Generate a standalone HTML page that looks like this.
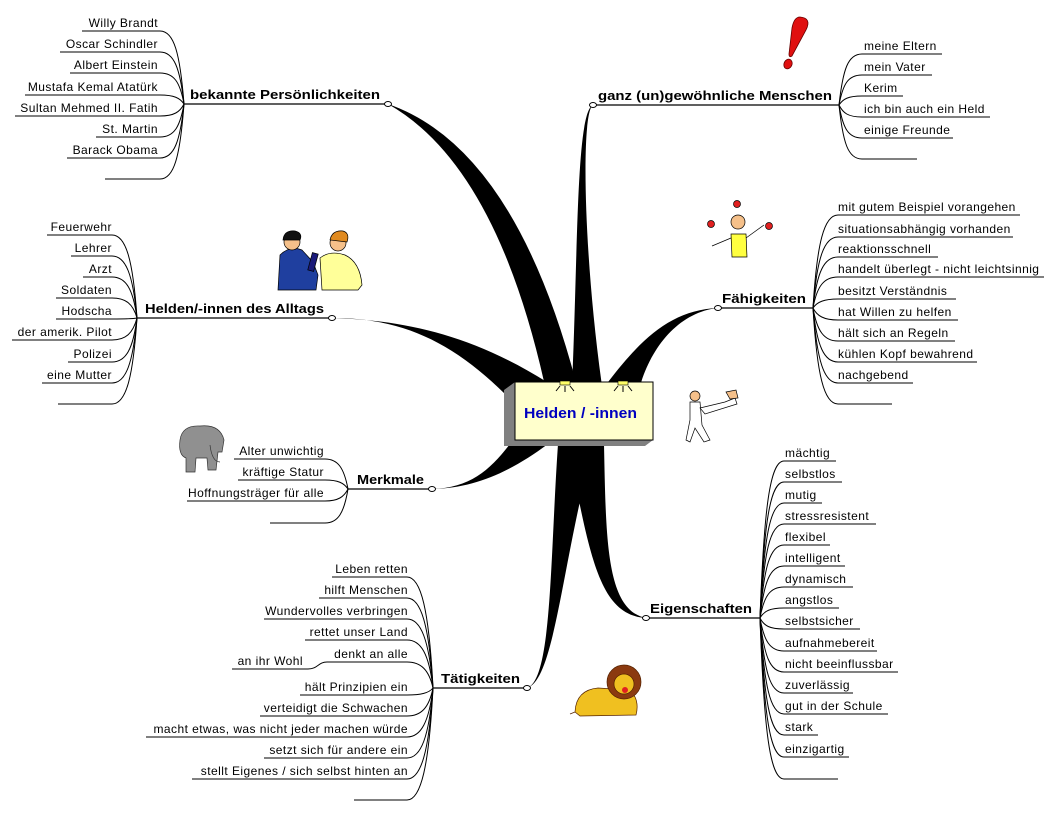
<!DOCTYPE html>
<html><head><meta charset="utf-8"><style>
html,body{margin:0;padding:0;background:#fff;}
svg{display:block;}
.l{font-family:"Liberation Sans",sans-serif;font-size:12px;letter-spacing:0.45px;fill:#000;}
.b{font-family:"Liberation Sans",sans-serif;font-size:13px;font-weight:bold;fill:#000;}
.t{fill:none;stroke:#000;stroke-width:1;}
</style></head><body>
<svg width="1056" height="821" viewBox="0 0 1056 821" xmlns="http://www.w3.org/2000/svg">
<g fill="#000">
<path d="M545 386 Q496 165 388 104 Q515 148 577 386 Z"/>
<path d="M572 386 C578 250 576 112 593 105 C581 112 583 250 602 386 Z"/>
<path d="M505 394 C450 340 400 318 332 318 C400 320 470 333 550 384 Z"/>
<path d="M605 386 C640 340 670 310 718 308 C680 312 652 345 640 386 Z"/>
<path d="M510 444 C490 470 470 488 432 489 C475 488 510 472 548 444 Z"/>
<path d="M558 444 C550 560 552 680 527 688 C555 680 562 560 594 444 Z"/>
<path d="M568 444 C590 560 600 615 646 618 C606 610 606 540 604 444 Z"/>
</g>
<g stroke="#000" stroke-width="1.2">
<line x1="184" y1="104" x2="388" y2="104"/>
<line x1="593" y1="105" x2="839" y2="105"/>
<line x1="137" y1="318" x2="332" y2="318"/>
<line x1="718" y1="308" x2="813" y2="308"/>
<line x1="348" y1="489" x2="432" y2="489"/>
<line x1="646" y1="618" x2="760" y2="618"/>
<line x1="433" y1="688" x2="527" y2="688"/>
</g>
<g fill="#fff" stroke="#000" stroke-width="1">
<ellipse cx="388" cy="104" rx="3.5" ry="2.5"/>
<ellipse cx="593" cy="105" rx="3.5" ry="2.5"/>
<ellipse cx="332" cy="318" rx="3.5" ry="2.5"/>
<ellipse cx="718" cy="308" rx="3.5" ry="2.5"/>
<ellipse cx="432" cy="489" rx="3.5" ry="2.5"/>
<ellipse cx="646" cy="618" rx="3.5" ry="2.5"/>
<ellipse cx="527" cy="688" rx="3.5" ry="2.5"/>
</g>
<text class="b" x="190" y="99" textLength="190" lengthAdjust="spacingAndGlyphs">bekannte Persönlichkeiten</text>
<text class="b" x="598" y="100" textLength="234" lengthAdjust="spacingAndGlyphs">ganz (un)gewöhnliche Menschen</text>
<text class="b" x="145" y="313" textLength="179" lengthAdjust="spacingAndGlyphs">Helden/-innen des Alltags</text>
<text class="b" x="722" y="303" textLength="84" lengthAdjust="spacingAndGlyphs">Fähigkeiten</text>
<text class="b" x="357" y="484" textLength="67" lengthAdjust="spacingAndGlyphs">Merkmale</text>
<text class="b" x="650" y="613" textLength="102" lengthAdjust="spacingAndGlyphs">Eigenschaften</text>
<text class="b" x="441" y="683" textLength="79" lengthAdjust="spacingAndGlyphs">Tätigkeiten</text>

<g class="t">
<path d="M184 104 C180 53 174 31 160 31"/><line x1="82" y1="31" x2="160" y2="31"/>
<path d="M184 104 C180 68 174 52 160 52"/><line x1="60" y1="52" x2="160" y2="52"/>
<path d="M184 104 C180 82 174 73 160 73"/><line x1="70" y1="73" x2="160" y2="73"/>
<path d="M184 104 C180 98 174 95 160 95"/><line x1="25" y1="95" x2="160" y2="95"/>
<path d="M184 104 C180 112 174 116 160 116"/><line x1="15" y1="116" x2="160" y2="116"/>
<path d="M184 104 C180 127 174 137 160 137"/><line x1="96" y1="137" x2="160" y2="137"/>
<path d="M184 104 C180 142 174 158 160 158"/><line x1="67" y1="158" x2="160" y2="158"/>
<path d="M184 104 C180 157 174 179 160 179"/><line x1="105" y1="179" x2="160" y2="179"/>
</g>
<g class="l" text-anchor="end">
<text x="158" y="27">Willy Brandt</text>
<text x="158" y="48">Oscar Schindler</text>
<text x="158" y="69">Albert Einstein</text>
<text x="158" y="91">Mustafa Kemal Atatürk</text>
<text x="158" y="112">Sultan Mehmed II. Fatih</text>
<text x="158" y="133">St. Martin</text>
<text x="158" y="154">Barack Obama</text>
</g>

<g class="t">
<path d="M839 105 C843 69 848 54 862 54"/><line x1="862" y1="54" x2="942" y2="54"/>
<path d="M839 105 C843 84 848 75 862 75"/><line x1="862" y1="75" x2="932" y2="75"/>
<path d="M839 105 C843 99 848 96 862 96"/><line x1="862" y1="96" x2="903" y2="96"/>
<path d="M839 105 C843 113 848 117 862 117"/><line x1="862" y1="117" x2="990" y2="117"/>
<path d="M839 105 C843 128 848 138 862 138"/><line x1="862" y1="138" x2="953" y2="138"/>
<path d="M839 105 C843 143 848 159 862 159"/><line x1="862" y1="159" x2="917" y2="159"/>
</g>
<g class="l">
<text x="864" y="50">meine Eltern</text>
<text x="864" y="71">mein Vater</text>
<text x="864" y="92">Kerim</text>
<text x="864" y="113">ich bin auch ein Held</text>
<text x="864" y="134">einige Freunde</text>
</g>

<g class="t">
<path d="M137 318 C133 260 126 235 112 235"/><line x1="47" y1="235" x2="112" y2="235"/>
<path d="M137 318 C133 275 126 256 112 256"/><line x1="71" y1="256" x2="112" y2="256"/>
<path d="M137 318 C133 289 126 277 112 277"/><line x1="83" y1="277" x2="112" y2="277"/>
<path d="M137 318 C133 304 126 298 112 298"/><line x1="56" y1="298" x2="112" y2="298"/>
<path d="M137 318 C133 319 126 319 112 319"/><line x1="56" y1="319" x2="112" y2="319"/>
<path d="M137 318 C133 333 126 340 112 340"/><line x1="12" y1="340" x2="112" y2="340"/>
<path d="M137 318 C133 349 126 362 112 362"/><line x1="68" y1="362" x2="112" y2="362"/>
<path d="M137 318 C133 363 126 383 112 383"/><line x1="42" y1="383" x2="112" y2="383"/>
<path d="M137 318 C133 378 126 404 112 404"/><line x1="58" y1="404" x2="112" y2="404"/>
</g>
<g class="l" text-anchor="end">
<text x="112" y="231">Feuerwehr</text>
<text x="112" y="252">Lehrer</text>
<text x="112" y="273">Arzt</text>
<text x="112" y="294">Soldaten</text>
<text x="112" y="315">Hodscha</text>
<text x="112" y="336">der amerik. Pilot</text>
<text x="112" y="358">Polizei</text>
<text x="112" y="379">eine Mutter</text>
</g>

<g class="t">
<path d="M813 308 C817 243 824 215 838 215"/><line x1="838" y1="215" x2="1020" y2="215"/>
<path d="M813 308 C817 258 824 237 838 237"/><line x1="838" y1="237" x2="1013" y2="237"/>
<path d="M813 308 C817 272 824 257 838 257"/><line x1="838" y1="257" x2="938" y2="257"/>
<path d="M813 308 C817 286 824 277 838 277"/><line x1="838" y1="277" x2="1044" y2="277"/>
<path d="M813 308 C817 302 824 299 838 299"/><line x1="838" y1="299" x2="956" y2="299"/>
<path d="M813 308 C817 316 824 320 838 320"/><line x1="838" y1="320" x2="958" y2="320"/>
<path d="M813 308 C817 331 824 341 838 341"/><line x1="838" y1="341" x2="955" y2="341"/>
<path d="M813 308 C817 346 824 362 838 362"/><line x1="838" y1="362" x2="977" y2="362"/>
<path d="M813 308 C817 361 824 383 838 383"/><line x1="838" y1="383" x2="913" y2="383"/>
<path d="M813 308 C817 375 824 404 838 404"/><line x1="838" y1="404" x2="892" y2="404"/>
</g>
<g class="l">
<text x="838" y="211">mit gutem Beispiel vorangehen</text>
<text x="838" y="233">situationsabhängig vorhanden</text>
<text x="838" y="253">reaktionsschnell</text>
<text x="838" y="273">handelt überlegt - nicht leichtsinnig</text>
<text x="838" y="295">besitzt Verständnis</text>
<text x="838" y="316">hat Willen zu helfen</text>
<text x="838" y="337">hält sich an Regeln</text>
<text x="838" y="358">kühlen Kopf bewahrend</text>
<text x="838" y="379">nachgebend</text>
</g>

<g class="t">
<path d="M348 489 C344 468 338 459 325 459"/><line x1="234" y1="459" x2="325" y2="459"/>
<path d="M348 489 C344 483 338 480 325 480"/><line x1="238" y1="480" x2="325" y2="480"/>
<path d="M348 489 C344 497 338 501 325 501"/><line x1="187" y1="501" x2="325" y2="501"/>
<path d="M348 489 C344 513 338 523 325 523"/><line x1="270" y1="523" x2="325" y2="523"/>
</g>
<g class="l" text-anchor="end">
<text x="324" y="455">Alter unwichtig</text>
<text x="324" y="476">kräftige Statur</text>
<text x="324" y="497">Hoffnungsträger für alle</text>
</g>

<g class="t">
<path d="M760 618 C764 508 770 461 784 461"/><line x1="784" y1="461" x2="836" y2="461"/>
<path d="M760 618 C764 523 770 482 784 482"/><line x1="784" y1="482" x2="842" y2="482"/>
<path d="M760 618 C764 538 770 503 784 503"/><line x1="784" y1="503" x2="822" y2="503"/>
<path d="M760 618 C764 552 770 524 784 524"/><line x1="784" y1="524" x2="876" y2="524"/>
<path d="M760 618 C764 567 770 545 784 545"/><line x1="784" y1="545" x2="830" y2="545"/>
<path d="M760 618 C764 582 770 566 784 566"/><line x1="784" y1="566" x2="845" y2="566"/>
<path d="M760 618 C764 596 770 587 784 587"/><line x1="784" y1="587" x2="853" y2="587"/>
<path d="M760 618 C764 611 770 608 784 608"/><line x1="784" y1="608" x2="839" y2="608"/>
<path d="M760 618 C764 626 770 629 784 629"/><line x1="784" y1="629" x2="860" y2="629"/>
<path d="M760 618 C764 641 770 651 784 651"/><line x1="784" y1="651" x2="877" y2="651"/>
<path d="M760 618 C764 656 770 672 784 672"/><line x1="784" y1="672" x2="898" y2="672"/>
<path d="M760 618 C764 671 770 693 784 693"/><line x1="784" y1="693" x2="853" y2="693"/>
<path d="M760 618 C764 685 770 714 784 714"/><line x1="784" y1="714" x2="888" y2="714"/>
<path d="M760 618 C764 700 770 735 784 735"/><line x1="784" y1="735" x2="818" y2="735"/>
<path d="M760 618 C764 715 770 757 784 757"/><line x1="784" y1="757" x2="849" y2="757"/>
<path d="M760 618 C764 731 770 779 784 779"/><line x1="784" y1="779" x2="838" y2="779"/>
</g>
<g class="l">
<text x="785" y="457">mächtig</text>
<text x="785" y="478">selbstlos</text>
<text x="785" y="499">mutig</text>
<text x="785" y="520">stressresistent</text>
<text x="785" y="541">flexibel</text>
<text x="785" y="562">intelligent</text>
<text x="785" y="583">dynamisch</text>
<text x="785" y="604">angstlos</text>
<text x="785" y="625">selbstsicher</text>
<text x="785" y="647">aufnahmebereit</text>
<text x="785" y="668">nicht beeinflussbar</text>
<text x="785" y="689">zuverlässig</text>
<text x="785" y="710">gut in der Schule</text>
<text x="785" y="731">stark</text>
<text x="785" y="753">einzigartig</text>
</g>

<g class="t">
<path d="M433 688 C429 610 421 577 407 577"/><line x1="332" y1="577" x2="407" y2="577"/>
<path d="M433 688 C429 625 421 598 407 598"/><line x1="319" y1="598" x2="407" y2="598"/>
<path d="M433 688 C429 640 421 619 407 619"/><line x1="264" y1="619" x2="407" y2="619"/>
<path d="M433 688 C429 654 421 640 407 640"/><line x1="305" y1="640" x2="407" y2="640"/>
<path d="M433 688 C429 670 421 662 407 662"/><line x1="327" y1="662" x2="407" y2="662"/>
<path d="M327 662 C318 662 318 669 308 669"/><line x1="232" y1="669" x2="308" y2="669"/>
<path d="M433 688 C429 693 421 695 407 695"/><line x1="300" y1="695" x2="407" y2="695"/>
<path d="M433 688 C429 708 421 716 407 716"/><line x1="260" y1="716" x2="407" y2="716"/>
<path d="M433 688 C429 722 421 737 407 737"/><line x1="146" y1="737" x2="407" y2="737"/>
<path d="M433 688 C429 737 421 758 407 758"/><line x1="264" y1="758" x2="407" y2="758"/>
<path d="M433 688 C429 752 421 779 407 779"/><line x1="192" y1="779" x2="407" y2="779"/>
<path d="M433 688 C429 766 421 800 407 800"/><line x1="354" y1="800" x2="407" y2="800"/>
</g>
<g class="l" text-anchor="end">
<text x="408" y="573">Leben retten</text>
<text x="408" y="594">hilft Menschen</text>
<text x="408" y="615">Wundervolles verbringen</text>
<text x="408" y="636">rettet unser Land</text>
<text x="408" y="658">denkt an alle</text>
<text x="303" y="665">an ihr Wohl</text>
<text x="408" y="691">hält Prinzipien ein</text>
<text x="408" y="712">verteidigt die Schwachen</text>
<text x="408" y="733">macht etwas, was nicht jeder machen würde</text>
<text x="408" y="754">setzt sich für andere ein</text>
<text x="408" y="775">stellt Eigenes / sich selbst hinten an</text>
</g>

<polygon points="515,382 504,390 504,446 645,446 653,440 515,440" fill="#808080"/>
<rect x="515" y="382" width="138" height="58" fill="#ffffcc" stroke="#000" stroke-width="1"/>
<g fill="#ffff66" stroke="#000" stroke-width="0.6">
<rect x="560" y="381" width="10" height="4"/><rect x="618" y="381" width="10" height="4"/>
</g>
<g stroke="#000" stroke-width="1">
<line x1="565" y1="386" x2="565" y2="392"/><line x1="560" y1="386" x2="556" y2="391"/><line x1="570" y1="386" x2="574" y2="391"/>
<line x1="623" y1="386" x2="623" y2="392"/><line x1="618" y1="386" x2="614" y2="391"/><line x1="628" y1="386" x2="632" y2="391"/>
</g>
<text x="524" y="418" textLength="113" lengthAdjust="spacingAndGlyphs" style="font-family:'Liberation Sans',sans-serif;font-size:15px;font-weight:bold;fill:#0000c0">Helden / -innen</text>

<path d="M800 17 Q812 18 806 30 L792 56 Q789 58 789 54 L792 28 Q794 17 800 17 Z" fill="#e01010" stroke="#600" stroke-width="0.8"/>
<ellipse cx="788" cy="64" rx="4" ry="5" transform="rotate(25 788 64)" fill="#e01010" stroke="#600" stroke-width="0.8"/>

<g stroke="#000" stroke-width="0.7">
<path d="M278 290 L280 255 Q290 245 302 250 L313 262 L318 275 L316 290 Z" fill="#1f3f9f"/>
<circle cx="292" cy="242" r="8" fill="#f5c08a"/>
<path d="M283 240 Q284 230 295 231 Q303 233 300 240 Z" fill="#111"/>
<rect x="310" y="253" width="6" height="18" fill="#1a1a7a" transform="rotate(15 313 262)"/>
<path d="M322 290 L320 258 Q330 250 345 255 Q360 262 362 285 L358 290 Z" fill="#ffff99"/>
<circle cx="338" cy="243" r="8" fill="#f5c08a"/>
<path d="M330 240 Q332 230 343 231 Q350 233 347 242 Z" fill="#e08a20"/>
</g>

<g stroke="#000" stroke-width="0.7">
<circle cx="738" cy="222" r="7" fill="#f5c08a"/>
<path d="M731 234 L746 234 L747 257 L732 257 Z" fill="#ffff40"/>
<path d="M731 238 L712 246 M746 238 L764 225" fill="none"/>
<circle cx="737" cy="204" r="3.5" fill="#e02020"/>
<circle cx="711" cy="224" r="3.5" fill="#e02020"/>
<circle cx="769" cy="226" r="3.5" fill="#e02020"/>
</g>

<g stroke="#000" stroke-width="0.7" fill="#fff">
<circle cx="695" cy="396" r="5" fill="#f5c08a"/>
<path d="M690 402 L700 402 L702 425 L710 440 L704 442 L695 428 L690 442 L686 440 L690 420 Z"/>
<path d="M700 408 L725 402 L735 398 L737 404 L705 414 Z"/>
<path d="M726 392 L736 390 L738 398 L730 399 Z" fill="#f5c08a"/>
</g>

<g fill="#909090" stroke="#333" stroke-width="0.7">
<path d="M180 440 Q182 425 200 426 Q220 424 224 440 L222 452 L218 452 L216 470 L208 470 L207 458 L196 458 L195 472 L186 472 L186 458 Q178 455 180 440 Z"/>
<path d="M210 445 Q212 462 220 462" fill="none"/>
</g>

<g stroke="#552200" stroke-width="0.7">
<path d="M575 712 Q576 690 598 688 L630 690 Q640 700 636 715 L580 716 Z" fill="#f0c020"/>
<circle cx="624" cy="682" r="17" fill="#8b3a10"/>
<circle cx="624" cy="684" r="10" fill="#f0c020"/>
<circle cx="625" cy="690" r="3" fill="#e02020" stroke="none"/>
<path d="M575 712 L570 714" fill="none"/>
</g>
</svg>
</body></html>
